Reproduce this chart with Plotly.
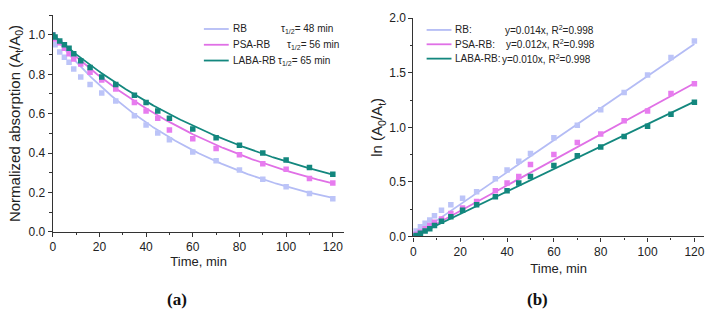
import numpy as np
import plotly.graph_objects as go

W, H = 716, 319

# ---------------- data ----------------
series = ["RB", "PSA-RB", "LABA-RB"]
half_life_text = ["τ<sub>1/2</sub>= 48 min", "τ<sub>1/2</sub>= 56 min", "τ<sub>1/2</sub>= 65 min"]
fit_text = ["y=0.014x, R<sup>2</sup>=0.998", "y=0.012x, R<sup>2</sup>=0.998", "y=0.010x, R<sup>2</sup>=0.998"]

time_min = [0, 1, 3, 5, 7, 9, 12, 16, 21, 27, 35, 40, 45, 50, 60, 70, 80, 90, 100, 110, 120]

# normalized absorption At/A0
norm_rb = [1.0, 0.951, 0.914, 0.887, 0.861, 0.827, 0.787, 0.748, 0.705, 0.664, 0.589,
           0.543, 0.502, 0.468, 0.405, 0.361, 0.313, 0.267, 0.228, 0.194, 0.167]
norm_psa = [1.0, 0.980, 0.961, 0.932, 0.905, 0.878, 0.852, 0.811, 0.771, 0.726, 0.657,
            0.613, 0.577, 0.517, 0.472, 0.423, 0.391, 0.346, 0.317, 0.270, 0.247]
norm_laba = [1.0, 0.990, 0.970, 0.951, 0.932, 0.905, 0.869, 0.835, 0.787, 0.748, 0.694,
             0.657, 0.613, 0.577, 0.522, 0.477, 0.440, 0.400, 0.364, 0.326, 0.292]

# ln(A0/At)
ln_rb = [0.0, 0.05, 0.09, 0.12, 0.15, 0.19, 0.24, 0.29, 0.35, 0.41, 0.53,
         0.61, 0.69, 0.76, 0.905, 1.02, 1.16, 1.32, 1.48, 1.64, 1.79]
ln_psa = [0.0, 0.02, 0.04, 0.07, 0.10, 0.13, 0.16, 0.21, 0.26, 0.32, 0.42,
          0.49, 0.55, 0.66, 0.75, 0.86, 0.94, 1.06, 1.15, 1.31, 1.40]
ln_laba = [0.0, 0.01, 0.03, 0.05, 0.07, 0.10, 0.14, 0.18, 0.24, 0.29, 0.365,
           0.42, 0.49, 0.55, 0.65, 0.74, 0.82, 0.915, 1.01, 1.12, 1.23]

# first-order rate constants of the drawn fit curves (1/min)
rate_k = [0.0147, 0.0117, 0.0103]

line_colors = ["#b4bcf5", "#e070e6", "#13877e"]
marker_colors = ["#bcc4f8", "#e77cef", "#13877e"]

norm_data = [norm_rb, norm_psa, norm_laba]
ln_data = [ln_rb, ln_psa, ln_laba]

# ---------------- figure ----------------
fig = go.Figure()
t_fit = np.linspace(0, 120, 241)

for i, name in enumerate(series):
    k = rate_k[i]
    fig.add_trace(go.Scatter(x=t_fit, y=np.exp(-k * t_fit), mode="lines",
                             line=dict(color=line_colors[i], width=1.8),
                             xaxis="x", yaxis="y", showlegend=False, hoverinfo="skip"))
    fig.add_trace(go.Scatter(x=time_min, y=norm_data[i], mode="markers", name=name,
                             marker=dict(symbol="square", size=5.5, color=marker_colors[i]),
                             xaxis="x", yaxis="y", showlegend=False))
    fig.add_trace(go.Scatter(x=[0, 120], y=[0, k * 120], mode="lines",
                             line=dict(color=line_colors[i], width=1.8),
                             xaxis="x2", yaxis="y2", showlegend=False, hoverinfo="skip"))
    fig.add_trace(go.Scatter(x=time_min, y=ln_data[i], mode="markers", name=name,
                             marker=dict(symbol="square", size=5.5, color=marker_colors[i]),
                             xaxis="x2", yaxis="y2", showlegend=False))


def px_x(p):
    return p / W


def px_y(p):
    return 1 - p / H


axis_col = "#333333"
tick_font = dict(family="Liberation Sans, Arial", size=12, color="#222222")
xtitle_font = dict(family="Liberation Sans, Arial", size=13, color="#222222")
ytitle_font = dict(family="Liberation Sans, Arial", size=15, color="#222222")

common_axis = dict(showline=True, linecolor=axis_col, linewidth=1.2, ticks="outside",
                   ticklen=4, tickwidth=1.1, tickcolor=axis_col, showgrid=False,
                   zeroline=False, tickfont=tick_font, mirror=False)

fig.update_layout(
    width=W, height=H, margin=dict(l=0, r=0, t=0, b=0),
    paper_bgcolor="white", plot_bgcolor="white",
    xaxis=dict(domain=[px_x(50), px_x(343.4)], range=[0, 125], anchor="y",
               tickvals=[0, 20, 40, 60, 80, 100, 120],
               minor=dict(dtick=10, tick0=0, ticks="outside", ticklen=2.5, tickcolor=axis_col),
               title=dict(text="Time, min", font=xtitle_font, standoff=3), **common_axis),
    yaxis=dict(domain=[px_y(235), px_y(8.7)], range=[0, 1.1], anchor="x",
               tickvals=[0, 0.2, 0.4, 0.6, 0.8, 1.0], tickformat=".1f",
               minor=dict(dtick=0.1, tick0=0, ticks="outside", ticklen=2.5, tickcolor=axis_col),
               title=dict(text="Normalized absorption (A<sub>t</sub>/A<sub>0</sub>)",
                          font=ytitle_font, standoff=4), **common_axis),
    xaxis2=dict(domain=[px_x(412.7), px_x(704.7)], range=[0, 124], anchor="y2",
                tickvals=[0, 20, 40, 60, 80, 100, 120],
                minor=dict(dtick=10, tick0=0, ticks="outside", ticklen=2.5, tickcolor=axis_col),
                title=dict(text="Time, min", font=xtitle_font, standoff=5), **common_axis),
    yaxis2=dict(domain=[px_y(240), px_y(11.7)], range=[0, 2.0], anchor="x2",
                tickvals=[0, 0.5, 1.0, 1.5, 2.0], tickformat=".1f",
                minor=dict(dtick=0.25, tick0=0, ticks="outside", ticklen=2.5, tickcolor=axis_col),
                title=dict(text="ln (A<sub>0</sub>/A<sub>t</sub>)", font=ytitle_font, standoff=2),
                **common_axis),
)

leg_font = dict(family="Liberation Sans, Arial", size=10, color="#222222")
annotations = []
shapes = []

# legend for panel (a)
left_rows = [23, 39.5, 56]
tau_x = [278, 284, 275]
for i, name in enumerate(series):
    y = px_y(left_rows[i])
    shapes.append(dict(type="line", xref="paper", yref="paper", x0=px_x(202), x1=px_x(227),
                       y0=y, y1=y, line=dict(color=line_colors[i], width=1.8)))
    annotations.append(dict(text=name, x=px_x(229), y=y, xref="paper", yref="paper",
                            xanchor="left", yanchor="middle", showarrow=False, font=leg_font))
    annotations.append(dict(text=half_life_text[i], x=px_x(tau_x[i]), y=y, xref="paper",
                            yref="paper", xanchor="left", yanchor="middle", showarrow=False,
                            font=leg_font))

# legend for panel (b)
right_rows = [24, 39, 54]
eq_x = [502.5, 503.5, 499.5]
for i, name in enumerate(series):
    y = px_y(right_rows[i])
    shapes.append(dict(type="line", xref="paper", yref="paper", x0=px_x(426), x1=px_x(451),
                       y0=y, y1=y, line=dict(color=line_colors[i], width=1.8)))
    annotations.append(dict(text=name + ":", x=px_x(453), y=y, xref="paper", yref="paper",
                            xanchor="left", yanchor="middle", showarrow=False, font=leg_font))
    annotations.append(dict(text=fit_text[i], x=px_x(eq_x[i]), y=y, xref="paper",
                            yref="paper", xanchor="left", yanchor="middle", showarrow=False,
                            font=leg_font))

panel_font = dict(family="Liberation Serif, Times New Roman", size=17, color="#111111")
annotations.append(dict(text="<b>(a)</b>", x=px_x(175), y=px_y(306), xref="paper", yref="paper",
                        xanchor="center", yanchor="middle", showarrow=False, font=panel_font))
annotations.append(dict(text="<b>(b)</b>", x=px_x(538), y=px_y(306), xref="paper", yref="paper",
                        xanchor="center", yanchor="middle", showarrow=False, font=panel_font))

fig.update_layout(annotations=annotations, shapes=shapes)

fig.write_html("out.html")
